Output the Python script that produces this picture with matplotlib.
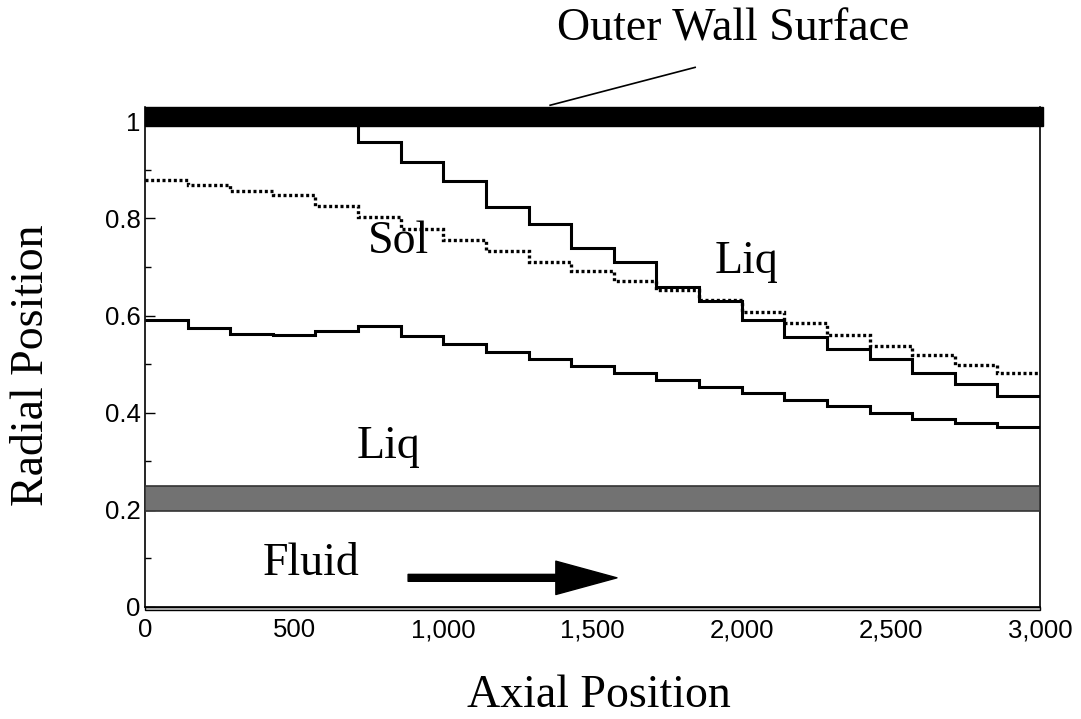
import numpy as np
import matplotlib
matplotlib.use("Agg")
import matplotlib.pyplot as plt
from matplotlib.patches import Rectangle
from matplotlib.ticker import FuncFormatter, MultipleLocator

# Limites de los segmentos axiales (21 tramos de 0 a 3000)
bordes = np.linspace(0, 3000, 22)

# Frente liquidus (linea continua superior)
liquidus = [1.0, 1.0, 1.0, 1.0, 1.0, 0.957, 0.916, 0.877, 0.823, 0.788, 0.740,
            0.710, 0.659, 0.630, 0.591, 0.556, 0.532, 0.511, 0.481, 0.460, 0.434]

# Frente solidus (punteado)
solidus = [0.880, 0.869, 0.857, 0.848, 0.825, 0.802, 0.779, 0.755, 0.733, 0.711, 0.691,
           0.671, 0.652, 0.632, 0.608, 0.584, 0.560, 0.538, 0.518, 0.499, 0.481]

# Frente liquidus interior (linea continua inferior)
liq_interior = [0.590, 0.575, 0.562, 0.560, 0.569, 0.578, 0.557, 0.542, 0.524, 0.510, 0.496,
                0.481, 0.467, 0.453, 0.441, 0.427, 0.414, 0.400, 0.388, 0.379, 0.370]

# Capas fijas
pared_ext = (0.99, 1.03)
pared_int = (0.198, 0.249)

serif = "Liberation Serif"
sans = "Liberation Sans"

fig = plt.figure(figsize=(10.81, 7.19), dpi=100)
ax = fig.add_axes([0.1341, 0.1558, 0.828, 0.6958])

ax.set_xlim(0, 3000)
ax.set_ylim(0, 1.03)

# Pared exterior y pared interior
ax.add_patch(Rectangle((0, pared_ext[0]), 3010, pared_ext[1] - pared_ext[0],
                       facecolor="black", edgecolor="black", clip_on=False, zorder=5))
ax.add_patch(Rectangle((0, pared_int[0]), 3000, pared_int[1] - pared_int[0],
                       facecolor="#727272", edgecolor="#333333", lw=1.2, zorder=3))
# Linea doble en el fondo
ax.add_patch(Rectangle((0, -0.007), 3000, 0.007, facecolor="#d0d0d0",
                       edgecolor="black", lw=1.0, clip_on=False, zorder=4))

# Curvas
ax.stairs(liquidus, bordes, baseline=None, color="black", lw=2.2, zorder=4)
ax.stairs(liq_interior, bordes, baseline=None, color="black", lw=2.2, zorder=4)
ax.stairs(solidus, bordes, baseline=None, color="black", lw=2.4,
          linestyle=(0, (0.9, 0.8)), zorder=4)

# Textos
fs = 33
ax.text(848, 0.728, "Sol", fontsize=fs, family=serif, ha="center", va="baseline")
ax.text(2018, 0.687, "Liq", fontsize=fs, family=serif, ha="center", va="baseline")
ax.text(815, 0.307, "Liq", fontsize=fs, family=serif, ha="center", va="baseline")
ax.text(556, 0.066, "Fluid", fontsize=fs, family=serif, ha="center", va="baseline")
ax.text(1971, 1.167, "Outer Wall Surface", fontsize=fs, family=serif,
        ha="center", va="baseline", clip_on=False)
ax.plot([1358, 1844], [1.033, 1.111], color="black", lw=1.2, clip_on=False)

# Flecha del fluido
ax.annotate("", xy=(1582, 0.060), xytext=(882, 0.060),
            arrowprops=dict(arrowstyle="simple,head_length=2.2,head_width=1.2,tail_width=0.25",
                            mutation_scale=20, color="black", shrinkA=0, shrinkB=0))

# Ejes
for lado in ["left", "right", "bottom"]:
    ax.spines[lado].set_linewidth(1.2)
ax.spines["top"].set_visible(False)

ax.set_xticks([0, 500, 1000, 1500, 2000, 2500, 3000])
ax.xaxis.set_major_formatter(FuncFormatter(lambda v, p: f"{int(v):,}"))
ax.set_yticks([0, 0.2, 0.4, 0.6, 0.8, 1.0])
ax.yaxis.set_minor_locator(MultipleLocator(0.1))
ax.yaxis.set_major_formatter(FuncFormatter(lambda v, p: f"{v:g}"))
ax.tick_params(axis="x", length=0, pad=8, labelsize=18.5)
ax.tick_params(axis="y", which="major", direction="in", length=7, width=1, pad=3, labelsize=18.5)
ax.tick_params(axis="y", which="minor", direction="in", length=4, width=1)
for lab in ax.get_xticklabels() + ax.get_yticklabels():
    lab.set_family(sans)

ax.set_xlabel("Axial Position", fontsize=fs, family=serif)
ax.set_ylabel("Radial Position", fontsize=fs, family=serif)
ax.xaxis.set_label_coords(0.507, -0.135)
ax.yaxis.set_label_coords(-0.103, 0.484)

fig.savefig("out.png", dpi=100)
